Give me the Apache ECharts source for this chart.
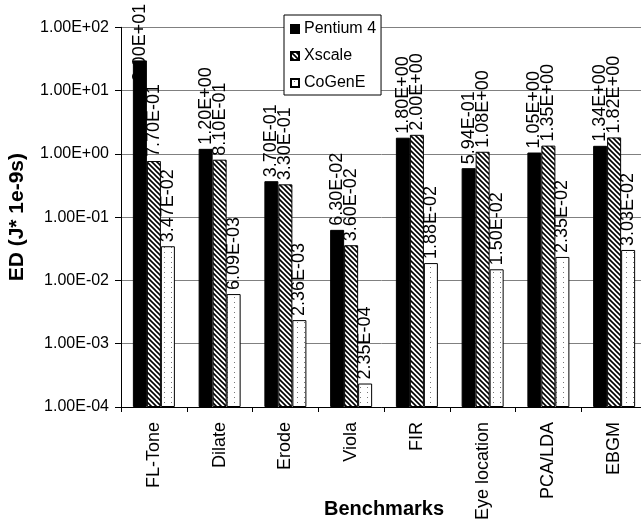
<!DOCTYPE html>
<html>
<head>
<meta charset="utf-8">
<script src="https://cdn.jsdelivr.net/npm/echarts@6/dist/echarts.min.js"></script>
<style>
  html, body { margin: 0; padding: 0; background: #fff; }
  #main { width: 641px; height: 524px; }
</style>
</head>
<body>
<div id="main"></div>
<script>
var categories = ['FL-Tone', 'Dilate', 'Erode', 'Viola', 'FIR', 'Eye location', 'PCA/LDA', 'EBGM'];
var pentium4 = [30, 1.2, 0.37, 0.063, 1.8, 0.594, 1.05, 1.34];
var xscale = [0.77, 0.81, 0.33, 0.036, 2.0, 1.08, 1.35, 1.82];
var cogene = [0.0347, 0.00609, 0.00236, 0.000235, 0.0188, 0.015, 0.0235, 0.0303];

var FONT = 'Liberation Sans, Arial, sans-serif';

// 1.00E+02 style
function sci(v) {
    var e = Math.floor(Math.log10(v) + 1e-9);
    var s = (v / Math.pow(10, e)).toFixed(2);
    if (s === '10.00') { s = '1.00'; e++; }
    var a = Math.abs(e);
    return s + 'E' + (e < 0 ? '-' : '+') + (a < 10 ? '0' : '') + a;
}

// hatch fill (diagonal stripes)
function hatch() {
    var c = document.createElement('canvas');
    c.width = 5; c.height = 5;
    var g = c.getContext('2d');
    g.fillStyle = '#fff';
    g.fillRect(0, 0, 5, 5);
    g.strokeStyle = '#000';
    g.lineWidth = 1.6;
    g.beginPath();
    g.moveTo(-1, -1); g.lineTo(6, 6);
    g.moveTo(-1, 4); g.lineTo(1, 6);
    g.moveTo(4, -1); g.lineTo(6, 1);
    g.stroke();
    return c;
}

// sparse dots
function dots() {
    var c = document.createElement('canvas');
    c.width = 7; c.height = 5;
    var g = c.getContext('2d');
    g.fillStyle = '#fff';
    g.fillRect(0, 0, 7, 5);
    g.fillStyle = '#777';
    g.fillRect(3, 2, 1, 1);
    return c;
}

var labelOpt = {
    show: true,
    position: 'top',
    rotate: 90,
    align: 'left',
    verticalAlign: 'middle',
    distance: 4,
    color: '#000',
    fontFamily: FONT,
    fontSize: 18,
    formatter: function (p) { return sci(p.value); }
};

function bar(name, data, color) {
    return {
        name: name,
        type: 'bar',
        data: data,
        barWidth: 14,
        barGap: '0%',
        itemStyle: { color: color, borderColor: '#000', borderWidth: 1 },
        label: labelOpt,
        emphasis: { disabled: true }
    };
}

// the tall FL-Tone label was pushed down onto its bar in the original
var p4Data = pentium4.map(function (v, i) {
    return i === 0 ? { value: v, label: { distance: -21 } } : v;
});

var myChart = echarts.init(document.getElementById('main'));
var option = {
    animation: false,
    backgroundColor: '#fff',
    grid: { left: 121, top: 27.3, right: -6, bottom: 117, containLabel: false, outerBoundsMode: 'none' },
    legend: {
        orient: 'vertical',
        left: 284,
        top: 15,
        padding: [6, 5, 4, 6],
        itemGap: 11,
        itemWidth: 8,
        itemHeight: 8,
        icon: 'rect',
        borderColor: '#000',
        borderWidth: 1,
        backgroundColor: '#fff',
        textStyle: { fontFamily: FONT, fontSize: 16, color: '#000' },
        data: ['Pentium 4', 'Xscale', 'CoGenE']
    },
    xAxis: {
        type: 'category',
        data: categories,
        name: 'Benchmarks',
        nameLocation: 'middle',
        nameGap: 92,
        nameMoveOverlap: false,
        nameTextStyle: { fontFamily: FONT, fontSize: 20, fontWeight: 'bold', color: '#000' },
        axisLine: { onZero: false, lineStyle: { color: '#000', width: 1 } },
        axisTick: { show: true, length: 5, lineStyle: { color: '#000' } },
        axisLabel: { rotate: 90, margin: 15, fontFamily: FONT, fontSize: 18, color: '#000', interval: 0 }
    },
    yAxis: {
        type: 'log',
        logBase: 10,
        min: 1e-4,
        max: 100,
        startValue: 1e-4,
        name: 'ED (J* 1e-9s)',
        nameLocation: 'middle',
        nameGap: 93,
        nameMoveOverlap: false,
        nameTextStyle: { fontFamily: FONT, fontSize: 21, fontWeight: 'bold', color: '#000' },
        axisLine: { show: true, lineStyle: { color: '#000', width: 1 } },
        axisTick: { show: true, length: 6, lineStyle: { color: '#000' } },
        splitLine: { show: true, lineStyle: { color: '#808080', width: 1 } },
        axisLabel: {
            margin: 12,
            fontFamily: FONT,
            fontSize: 16,
            color: '#000',
            formatter: function (v) { return sci(v); }
        }
    },
    series: [
        bar('Pentium 4', p4Data, '#000'),
        bar('Xscale', xscale, { image: hatch(), repeat: 'repeat' }),
        bar('CoGenE', cogene, { image: dots(), repeat: 'repeat' })
    ]
};
myChart.setOption(option);
</script>
</body>
</html>
